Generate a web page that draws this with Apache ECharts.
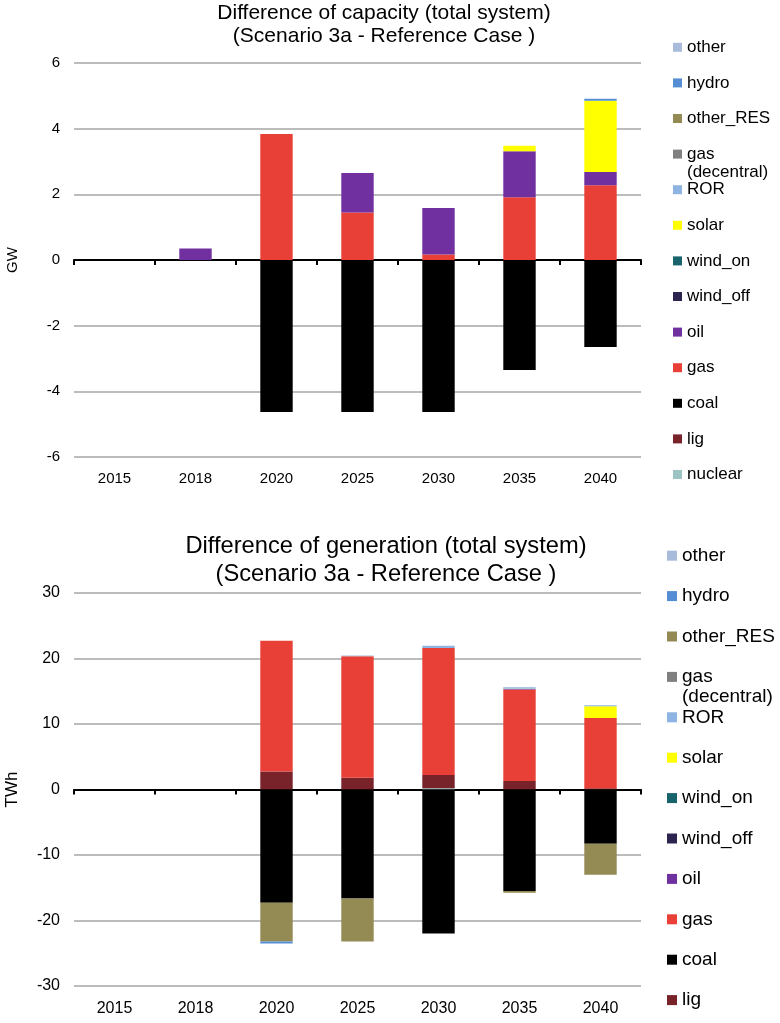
<!DOCTYPE html>
<html>
<head>
<meta charset="utf-8">
<script src="https://cdn.jsdelivr.net/npm/echarts@6/dist/echarts.min.js"></script>
<style>
  body { margin: 0; background: #fff; }
  #capacity { position: absolute; left: 0; top: 0; width: 780px; height: 510px; }
  #generation { position: absolute; left: 0; top: 510px; width: 780px; height: 513px; }
</style>
</head>
<body>
<div id="capacity"></div>
<div id="generation"></div>
<script>
// categories (years)
var years = ['2015', '2018', '2020', '2025', '2030', '2035', '2040'];

// legend order (top to bottom) as in the picture
var legendNames = ['other', 'hydro', 'other_RES', 'gas (decentral)', 'ROR', 'solar',
                   'wind_on', 'wind_off', 'oil', 'gas', 'coal', 'lig', 'nuclear'];

// stacking order (bottom to top)
var stackNames = ['nuclear', 'lig', 'coal', 'gas', 'oil', 'wind_off', 'wind_on', 'solar',
                  'ROR', 'gas (decentral)', 'other_RES', 'hydro', 'other'];

var colors = {
    'other': '#A9BBDB',
    'hydro': '#558ED5',
    'other_RES': '#948A54',
    'gas (decentral)': '#808080',
    'ROR': '#8EB4E3',
    'solar': '#FFFF00',
    'wind_on': '#17646C',
    'wind_off': '#2E2450',
    'oil': '#7030A0',
    'gas': '#E84037',
    'coal': '#000000',
    'lig': '#78222A',
    'nuclear': '#9DC3C3'
};

// capacity difference, GW
var capNuclear  = [0, 0, 0, 0, 0, 0, 0];
var capLig      = [0, 0, 0, 0, 0, 0, 0];
var capCoal     = [0, 0, -4.63, -4.63, -4.63, -3.35, -2.65];
var capGas      = [0, 0, 3.84, 1.45, 0.17, 1.91, 2.28];
var capOil      = [0, 0.35, 0, 1.2, 1.41, 1.4, 0.4];
var capWindOff  = [0, 0, 0, 0, 0, 0, 0];
var capWindOn   = [0, 0, 0, 0, 0, 0, 0];
var capSolar    = [0, 0, 0, 0, 0, 0.17, 2.17];
var capROR      = [0, 0, 0, 0, 0, 0, 0];
var capGasDec   = [0, 0, 0, 0, 0, 0, 0];
var capOtherRES = [0, 0, 0, 0, 0, 0, 0];
var capHydro    = [0, 0, 0, 0, 0, 0, 0.06];
var capOther    = [0, 0, 0, 0, 0, 0, 0];

// generation difference, TWh
var genNuclear  = [0, 0, 0, 0, 0.2, 0, 0];
var genLig      = [0, 0, 2.75, 1.8, 2.0, 1.3, 0.2];
var genCoal     = [0, 0, -17.3, -16.65, -22.0, -15.5, -8.3];
var genGas      = [0, 0, 19.95, 18.55, 19.4, 13.95, 10.7];
var genOil      = [0, 0, 0, 0, 0, 0.1, 0];
var genWindOff  = [0, 0, 0, 0, 0, 0, 0];
var genWindOn   = [0, 0, 0, 0, 0, 0, 0];
var genSolar    = [0, 0, 0, 0, 0, 0.05, 1.8];
var genROR      = [0, 0, 0, 0, 0.35, 0.2, 0.15];
var genGasDec   = [0, 0, 0, 0, 0, 0, 0];
var genOtherRES = [0, 0, -5.9, -6.55, 0, -0.25, -4.7];
var genHydro    = [0, 0, -0.3, 0, 0, 0, 0];
var genOther    = [0, 0, 0, 0.1, 0, 0, 0];

// y axis ticks
var capTicks = { min: -6, max: 6, interval: 2 };
var genTicks = { min: -30, max: 30, interval: 10 };

var capData = {
    'nuclear': capNuclear, 'lig': capLig, 'coal': capCoal, 'gas': capGas, 'oil': capOil,
    'wind_off': capWindOff, 'wind_on': capWindOn, 'solar': capSolar, 'ROR': capROR,
    'gas (decentral)': capGasDec, 'other_RES': capOtherRES, 'hydro': capHydro, 'other': capOther
};
var genData = {
    'nuclear': genNuclear, 'lig': genLig, 'coal': genCoal, 'gas': genGas, 'oil': genOil,
    'wind_off': genWindOff, 'wind_on': genWindOn, 'solar': genSolar, 'ROR': genROR,
    'gas (decentral)': genGasDec, 'other_RES': genOtherRES, 'hydro': genHydro, 'other': genOther
};

var FONT = '"Liberation Sans", Arial, sans-serif';

function buildSeries(data) {
    return stackNames.map(function (name) {
        return {
            name: name,
            type: 'bar',
            stack: 'total',
            xAxisIndex: 0,
            barWidth: '40%',
            itemStyle: { color: colors[name] },
            emphasis: { disabled: true },
            data: data[name]
        };
    });
}

// legend is split in three blocks so the two-line "gas (decentral)" entry
// does not push the following entries down (as in the original chart)
function buildLegend(cfg, names, top) {
    return {
        orient: 'vertical',
        left: cfg.legendLeft,
        top: top,
        padding: 0,
        itemWidth: cfg.iconSize,
        itemHeight: cfg.iconSize,
        itemGap: cfg.legendStep - cfg.legendLine,
        icon: 'rect',
        selectedMode: false,
        data: names,
        formatter: function (name) {
            // empty first line keeps "gas" level with its icon
            return name === 'gas (decentral)' ? ' \ngas\n(decentral)' : name;
        },
        textStyle: {
            fontFamily: FONT, color: '#000', fontSize: cfg.legendFont,
            lineHeight: cfg.legendLine
        }
    };
}

function buildOption(cfg) {
    var c0 = cfg.legendFirst, step = cfg.legendStep, half = cfg.legendLine / 2;
    return {
        animation: false,
        textStyle: { fontFamily: FONT },
        title: {
            text: cfg.title,
            left: cfg.titleX,
            textAlign: 'center',
            top: cfg.titleTop,
            padding: 0,
            textStyle: {
                fontFamily: FONT, fontWeight: 'normal', color: '#000',
                fontSize: cfg.titleSize, lineHeight: cfg.titleLine
            }
        },
        legend: [
            buildLegend(cfg, cfg.legendData.slice(0, 3), c0 - half),
            buildLegend(cfg, cfg.legendData.slice(3, 4), c0 + 3 * step - 3 * half),
            buildLegend(cfg, cfg.legendData.slice(4), c0 + 4 * step - half)
        ],
        grid: {
            left: 74, right: 139, top: cfg.gridTop, bottom: cfg.gridBottom,
            containLabel: false, outerBoundsMode: 'none'
        },
        xAxis: [
            {
                type: 'category',
                data: years,
                position: 'bottom',
                axisLine: { show: false, onZero: false },
                axisTick: { show: false },
                axisLabel: { color: '#000', fontSize: cfg.axisFont, margin: cfg.xLabelMargin, fontFamily: FONT }
            },
            {
                type: 'category',
                data: years,
                position: 'top',
                axisLine: { show: true, onZero: true, lineStyle: { color: '#000', width: 2 } },
                axisTick: { show: true, inside: true, length: 5, lineStyle: { color: '#000', width: 2 } },
                axisLabel: { show: false }
            }
        ],
        yAxis: {
            type: 'value',
            min: cfg.ticks.min,
            max: cfg.ticks.max,
            interval: cfg.ticks.interval,
            name: cfg.unit,
            nameLocation: 'middle',
            nameGap: cfg.nameGap,
            nameTextStyle: { color: '#000', fontSize: cfg.nameFont, fontFamily: FONT },
            axisLine: { show: false },
            axisTick: { show: false },
            axisLabel: { color: '#000', fontSize: cfg.axisFont, margin: 14, fontFamily: FONT },
            splitLine: { lineStyle: { color: '#A6A6A6', width: 1.5 } }
        },
        series: buildSeries(cfg.data)
    };
}

var capChart = echarts.init(document.getElementById('capacity'));
capChart.setOption(buildOption({
    title: 'Difference of capacity (total system)\n(Scenario 3a - Reference Case )',
    titleX: 384, titleTop: 1.5, titleSize: 21, titleLine: 23,
    legendLeft: 673, legendFirst: 47.3, legendStep: 35.6, iconSize: 9,
    legendFont: 17, legendLine: 18,
    legendData: legendNames,
    gridTop: 63, gridBottom: 53,
    axisFont: 15, xLabelMargin: 14,
    ticks: capTicks, unit: 'GW', nameGap: 54, nameFont: 15,
    data: capData
}));

var genChart = echarts.init(document.getElementById('generation'));
genChart.setOption(buildOption({
    title: 'Difference of generation (total system)\n(Scenario 3a - Reference Case )',
    titleX: 386, titleTop: 22, titleSize: 23.7, titleLine: 28,
    legendLeft: 667, legendFirst: 45.7, legendStep: 40.4, iconSize: 10,
    legendFont: 19, legendLine: 20,
    legendData: legendNames.slice(0, 12),
    gridTop: 83, gridBottom: 37,
    axisFont: 16, xLabelMargin: 15,
    ticks: genTicks, unit: 'TWh', nameGap: 53, nameFont: 17,
    data: genData
}));
</script>
</body>
</html>
